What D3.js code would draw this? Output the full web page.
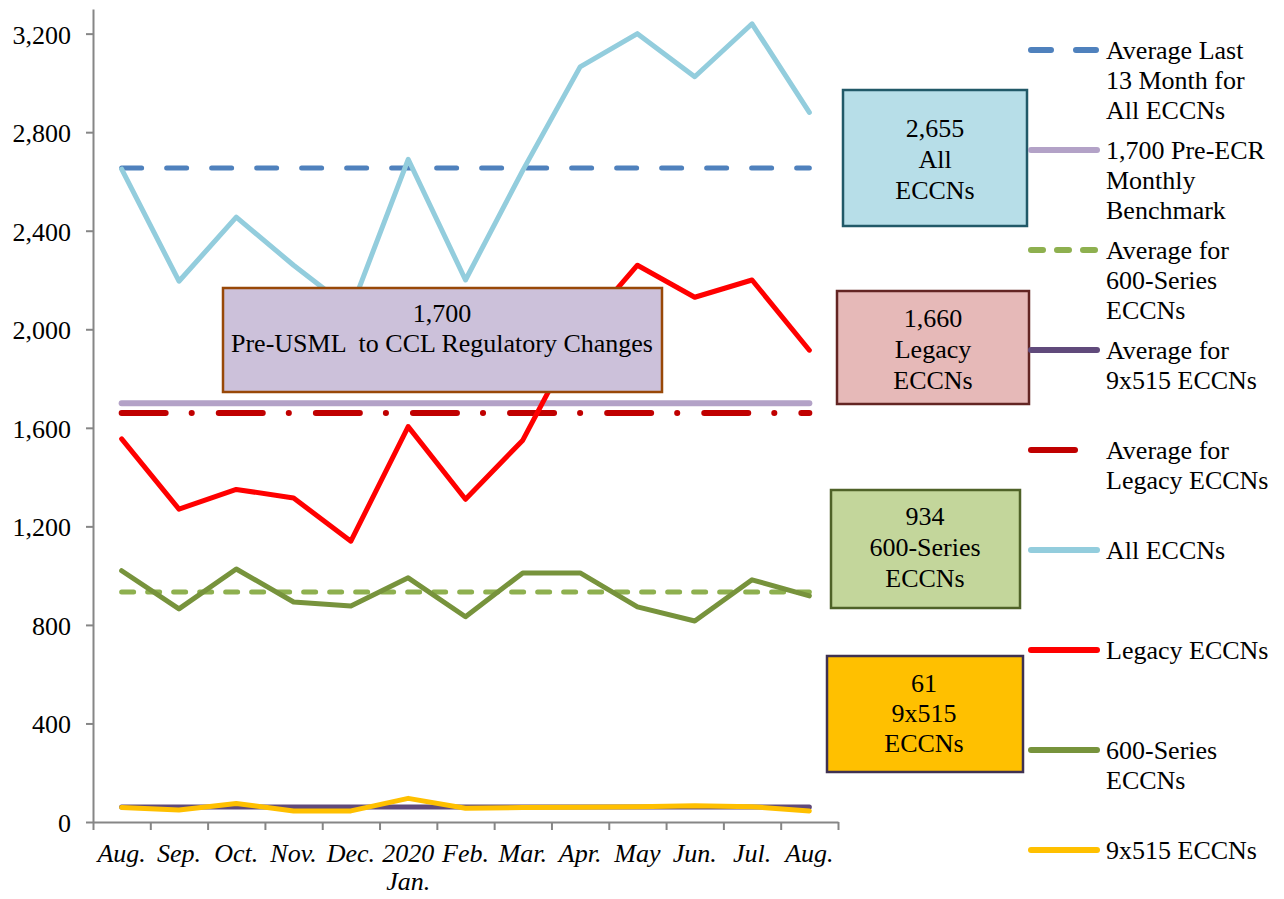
<!DOCTYPE html>
<html>
<head>
<meta charset="utf-8">
<script src="https://cdn.jsdelivr.net/npm/d3@7"></script>
<style>
  body { margin: 0; background: #fff; }
  text { font-family: "Liberation Serif", "Times New Roman", serif; fill: #000; }
</style>
</head>
<body>
<svg id="chart" width="1284" height="899"></svg>
<script>
// month labels (x axis)
const months = ["Aug.", "Sep.", "Oct.", "Nov.", "Dec.", "2020 Jan.", "Feb.", "Mar.", "Apr.", "May", "Jun.", "Jul.", "Aug."];

// monthly series
const allEccns    = [2650, 2195, 2455, 2260, 2080, 2690, 2200, 2645, 3065, 3200, 3025, 3240, 2880];
const legacyEccns = [1555, 1270, 1350, 1315, 1140, 1605, 1310, 1550, 1990, 2260, 2130, 2200, 1915];
const series600   = [1020, 865, 1027, 893, 877, 991, 833, 1011, 1011, 873, 816, 983, 918];
const eccn9x515   = [59, 49, 75, 45, 45, 96, 56, 59, 60, 62, 66, 62, 45];

// reference levels
const avgAll = 2655;
const benchmark = 1700;
const avg600 = 934;
const avg9x515 = 61;
const avgLegacy = 1660;

const yTicks = [0, 400, 800, 1200, 1600, 2000, 2400, 2800, 3200];

const FS = 26;
const svg = d3.select("#chart");

const x = d3.scaleBand().domain(d3.range(months.length)).range([93, 838]).padding(0);
const xEdge = d3.scaleLinear().domain([0, months.length]).range([93, 838]);
const y = d3.scaleLinear().domain([0, 3300]).range([822, 9]);
const cx = i => x(i) + x.bandwidth() / 2;

// y axis
const yAxis = svg.append("g")
  .attr("transform", "translate(93,0)")
  .call(d3.axisLeft(y).tickValues(yTicks).tickFormat(d3.format(",")).tickSize(7).tickSizeOuter(0).tickPadding(15));
yAxis.select(".domain").attr("stroke", "#868686").attr("stroke-width", 2);
yAxis.selectAll(".tick line").attr("stroke", "#868686").attr("stroke-width", 2);
yAxis.selectAll(".tick text").attr("font-size", FS).attr("dy", "0.36em");

// x axis: boundary ticks
const xAxis = svg.append("g")
  .attr("transform", "translate(0,822)")
  .call(d3.axisBottom(xEdge).tickValues(d3.range(months.length + 1)).tickFormat("").tickSize(8).tickSizeOuter(0));
xAxis.select(".domain").attr("stroke", "#868686").attr("stroke-width", 2);
xAxis.selectAll(".tick line").attr("stroke", "#868686").attr("stroke-width", 2);

// x axis labels
const xLab = svg.append("g")
  .attr("transform", "translate(0,822)")
  .call(d3.axisBottom(x).tickSize(0).tickFormat(""));
xLab.select(".domain").remove();
xLab.selectAll(".tick").each(function(i) {
  const t = d3.select(this).select("text")
    .attr("font-size", FS).attr("font-style", "italic")
    .attr("dy", null).attr("y", 0);
  const parts = months[i].split(" ");
  parts.forEach((p, k) => {
    t.append("tspan").attr("x", 0).attr("y", 40 + k * 28).text(p);
  });
});

// horizontal reference lines
const hline = (v, color, width, dash) => {
  svg.append("line")
    .attr("x1", cx(0)).attr("x2", cx(months.length - 1))
    .attr("y1", y(v)).attr("y2", y(v))
    .attr("stroke", color).attr("stroke-width", width)
    .attr("stroke-linecap", "round")
    .attr("stroke-dasharray", dash);
};
hline(avgAll, "#4F81BD", 5, "20,25");
hline(benchmark, "#B3A2C7", 6, null);
hline(avgLegacy, "#C00000", 6, "44,26,0.1,27");
hline(avg600, "#8EB04F", 5, "12,14");
hline(avg9x515, "#604A7B", 5, null);

// data series
const line = d3.line().x((d, i) => cx(i)).y(d => y(d));
const series = [
  { values: allEccns, color: "#93CDDD" },
  { values: legacyEccns, color: "#FF0000" },
  { values: series600, color: "#77933C" },
  { values: eccn9x515, color: "#FFC000" }
];
svg.selectAll(".series")
  .data(series)
  .join("path")
  .attr("class", "series")
  .attr("d", d => line(d.values))
  .attr("fill", "none")
  .attr("stroke", d => d.color)
  .attr("stroke-width", 5)
  .attr("stroke-linejoin", "round")
  .attr("stroke-linecap", "round");

// annotation boxes
const boxes = [
  { x: 223, y: 288, w: 439, h: 104, fill: "#CCC1DA", stroke: "#984807", cx: 442, base: 322, lines: ["1,700", "Pre-USML  to CCL Regulatory Changes"], gap: 30 },
  { x: 843, y: 90, w: 184, h: 136, fill: "#B7DEE8", stroke: "#215968", cx: 935, base: 137, lines: ["2,655", "All", "ECCNs"], gap: 31 },
  { x: 837, y: 291, w: 192, h: 113, fill: "#E6B9B8", stroke: "#632523", cx: 933, base: 327, lines: ["1,660", "Legacy", "ECCNs"], gap: 31 },
  { x: 831, y: 490, w: 189, h: 118, fill: "#C3D69B", stroke: "#4F6228", cx: 925, base: 525, lines: ["934", "600-Series", "ECCNs"], gap: 31 },
  { x: 827, y: 656, w: 196, h: 116, fill: "#FFC000", stroke: "#3F3151", cx: 924, base: 692, lines: ["61", "9x515", "ECCNs"], gap: 30 }
];
boxes.forEach(b => {
  svg.append("rect")
    .attr("x", b.x).attr("y", b.y).attr("width", b.w).attr("height", b.h)
    .attr("fill", b.fill).attr("stroke", b.stroke).attr("stroke-width", 2.5);
  const t = svg.append("text").attr("text-anchor", "middle").attr("font-size", FS)
    .style("white-space", "pre");
  b.lines.forEach((l, k) => {
    t.append("tspan").attr("x", b.cx).attr("y", b.base + k * b.gap).text(l);
  });
});

// legend
const legend = [
  { label: ["Average Last", "13 Month for", "All ECCNs"], color: "#4F81BD", dash: "20,25" },
  { label: ["1,700 Pre-ECR", "Monthly", "Benchmark"], color: "#B3A2C7", dash: null },
  { label: ["Average for", "600-Series", "ECCNs"], color: "#8EB04F", dash: "12,14" },
  { label: ["Average for", "9x515 ECCNs"], color: "#604A7B", dash: null },
  { label: ["Average for", "Legacy ECCNs"], color: "#C00000", dash: "44,26,0.1,27" },
  { label: ["All ECCNs"], color: "#93CDDD", dash: null },
  { label: ["Legacy ECCNs"], color: "#FF0000", dash: null },
  { label: ["600-Series", "ECCNs"], color: "#77933C", dash: null },
  { label: ["9x515 ECCNs"], color: "#FFC000", dash: null }
];
const lg = svg.append("g").selectAll("g").data(legend).join("g")
  .attr("transform", (d, i) => `translate(0,${50 + i * 100})`);
lg.append("line")
  .attr("x1", 1031).attr("x2", 1097).attr("y1", 0).attr("y2", 0)
  .attr("stroke", d => d.color).attr("stroke-width", 6)
  .attr("stroke-linecap", "round")
  .attr("stroke-dasharray", d => d.dash);
lg.append("text").attr("font-size", FS)
  .selectAll("tspan").data(d => d.label).join("tspan")
  .attr("x", 1106).attr("y", (d, k) => 9 + k * 30)
  .text(d => d);
</script>
</body>
</html>
